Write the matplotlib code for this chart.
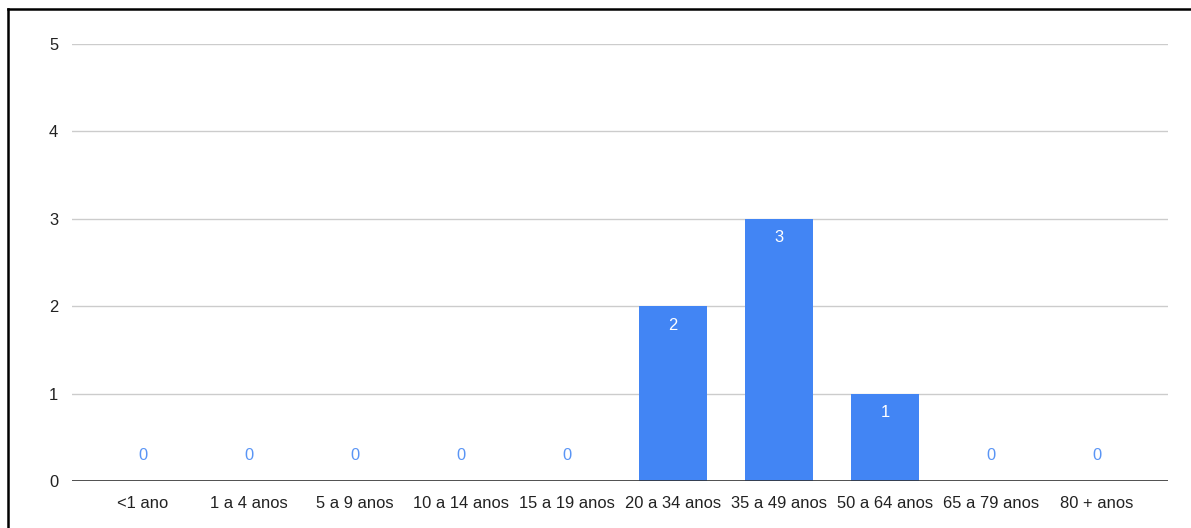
import matplotlib
matplotlib.use("Agg")
import matplotlib.pyplot as plt
from matplotlib.lines import Line2D

plt.rcParams['font.family'] = ['Liberation Sans', 'DejaVu Sans']

categories = ["<1 ano", "1 a 4 anos", "5 a 9 anos", "10 a 14 anos", "15 a 19 anos",
              "20 a 34 anos", "35 a 49 anos", "50 a 64 anos", "65 a 79 anos", "80 + anos"]
values = [0, 0, 0, 0, 0, 2, 3, 1, 0, 0]
y_ticks = [0, 1, 2, 3, 4, 5]

bar_color = "#4285F4"
fs = 11.9

fig = plt.figure(figsize=(11.91, 5.28), dpi=100)
ax = fig.add_axes([72 / 1191, 47 / 528, 1096 / 1191, 437 / 528])

x = list(range(len(categories)))
ax.bar(x, values, width=0.64, color=bar_color, zorder=3)

ax.set_xlim(-0.67, len(categories) - 1 + 0.67)
ax.set_ylim(0, 5)
ax.set_yticks(y_ticks)
ax.set_xticks(x)
ax.set_xticklabels(categories)
ax.tick_params(axis='both', length=0, labelsize=fs, colors="#222222")
ax.tick_params(axis='x', pad=11)
ax.tick_params(axis='y', pad=10)

ax.grid(axis='y', color="#cccccc", linewidth=1, zorder=0)
for s in ax.spines.values():
    s.set_visible(False)
ax.axhline(0, color="#333333", linewidth=1.2, zorder=4)

for xi, v in zip(x, values):
    if v > 0:
        ax.annotate(str(v), (xi, v), xytext=(0, -19), textcoords="offset pixels",
                    ha="center", va="center", color="white", fontsize=fs, zorder=5)
    else:
        ax.annotate(str(v), (xi, v), xytext=(0, 26), textcoords="offset pixels",
                    ha="center", va="center", color="#5a95f5", fontsize=fs, zorder=5)

# frame edges along the top and left
fig.add_artist(Line2D([8 / 1191, 1], [1 - 9 / 528, 1 - 9 / 528], color="black", linewidth=1.8,
                      transform=fig.transFigure))
fig.add_artist(Line2D([8 / 1191, 8 / 1191], [0, 1 - 9 / 528], color="black", linewidth=1.8,
                      transform=fig.transFigure))

fig.savefig("out.png", dpi=100)
